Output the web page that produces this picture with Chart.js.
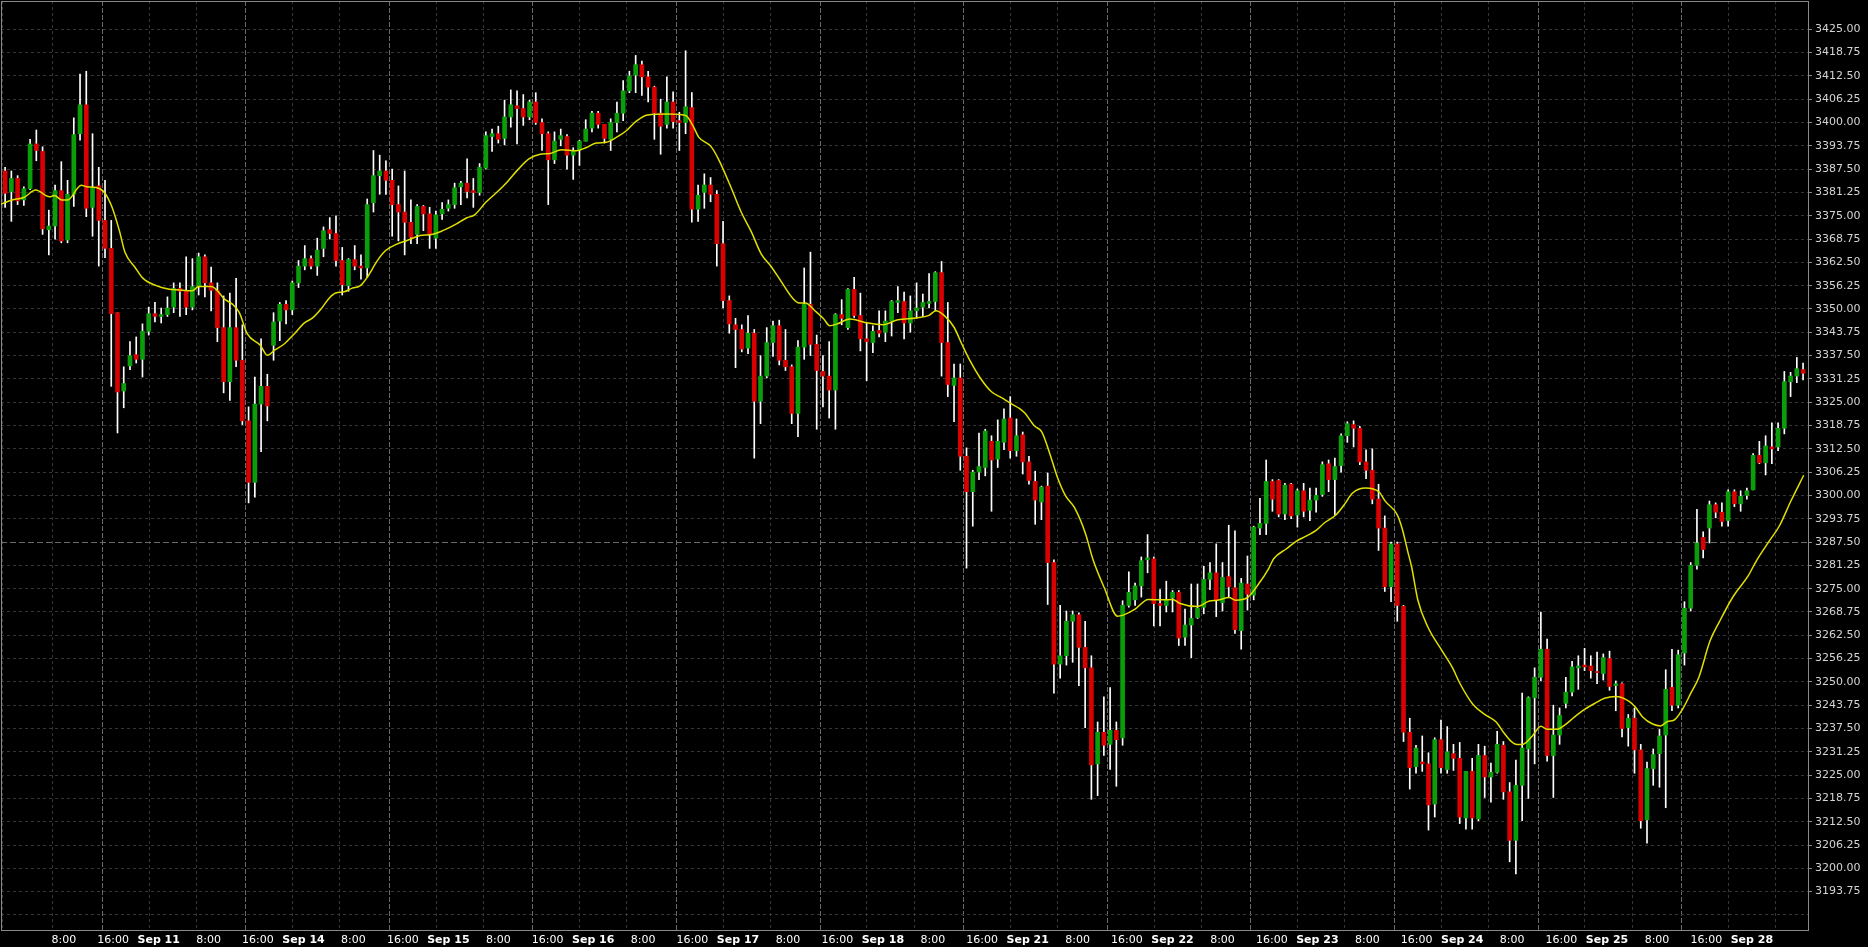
<!DOCTYPE html>
<html>
<head>
<meta charset="utf-8">
<title>ES hourly candles</title>
<script src="https://cdn.jsdelivr.net/npm/chart.js@4.4.1/dist/chart.umd.min.js"></script>
<style>
  html, body { margin: 0; padding: 0; background: #000; overflow: hidden; }
  #wrap { width: 1868px; height: 947px; }
  canvas { background: #000; }
</style>
</head>
<body>
<div id="wrap"><canvas id="priceChart" width="1868" height="947"></canvas></div>
<script>
// ============================================================
// Hourly candles, Sep 10 - Sep 28, with a moving average
// ============================================================

// one value per hourly bar, left to right
const opens = [
  3387, 3381.5, 3385, 3379.25, 3382.25, 3394.25, 3392.25, 3371.25, 3372.25, 3381.75,
  3368.5, 3380.75, 3397, 3404.75, 3377.25, 3383, 3373.75, 3366.25, 3349, 3328,
  3334.75, 3337.75, 3336.5, 3344, 3348.75, 3348, 3348.5, 3350.5, 3355.5, 3354.75,
  3350.5, 3356, 3364, 3357, 3355, 3345, 3330.5, 3345, 3336.25, 3320,
  3303.5, 3324.5, 3329.25, 3340.25, 3346.75, 3351.25, 3349.75, 3357, 3361.5, 3363.5,
  3361.5, 3366.25, 3371.25, 3370.25, 3363, 3356.25, 3363.25, 3361.5, 3361, 3378.5,
  3385.75, 3387, 3384.5, 3378, 3376, 3373.25, 3370, 3377.5, 3375.5, 3369,
  3375.5, 3377, 3378, 3382.75, 3383.75, 3381.75, 3381.25, 3387.75, 3396.25, 3397,
  3395.75, 3401.5, 3404.5, 3403.75, 3401.5, 3405.5, 3400, 3397, 3390, 3395.5,
  3396.25, 3391.25, 3392.75, 3395, 3398.5, 3402.5, 3399.5, 3395.5, 3400, 3402.5,
  3408.5, 3412.75, 3415.5, 3412.25, 3409.5, 3402.5, 3399.5, 3405.5, 3400.5, 3400,
  3404, 3376.75, 3381.25, 3383.25, 3380.75, 3367.5, 3352.25, 3345.75, 3344.5, 3339.5,
  3343.5, 3325.25, 3332, 3341, 3345.5, 3336.25, 3334.5, 3322, 3339.75, 3351.25,
  3340.5, 3333.25, 3332, 3328.25, 3348.5, 3345, 3355.25, 3348.25, 3342, 3341,
  3344.25, 3343.75, 3346.75, 3351.75, 3352, 3346.25, 3349.5, 3350.5, 3351.5, 3352,
  3359.75, 3341, 3329.5, 3331.5, 3310.5, 3301, 3306.25, 3307.5, 3314.5, 3309.75,
  3314.25, 3320.75, 3312, 3316.25, 3309, 3303.75, 3298.25, 3302.5, 3282, 3254.75,
  3257, 3266.25, 3268, 3259.25, 3253.75, 3228, 3236.5, 3233.25, 3237, 3235,
  3270.5, 3272, 3275.75, 3282.75, 3283, 3271, 3270.5, 3272.5, 3274, 3262,
  3265.25, 3267.25, 3270, 3277.5, 3279.25, 3271.25, 3278.25, 3275.25, 3263.75, 3276.25,
  3273.25, 3291.25, 3292.5, 3303.75, 3304, 3295, 3303, 3294.75, 3301.25, 3296,
  3298.75, 3300.25, 3308.5, 3304.25, 3308, 3316, 3319, 3318, 3309, 3306.75,
  3299, 3291.25, 3275.5, 3287, 3270.25, 3236.5, 3227.25, 3228.5, 3228, 3217.25,
  3234.5, 3226.5, 3230.75, 3229.5, 3213.5, 3226, 3213.25, 3230.25, 3224.5, 3225.75,
  3233, 3220.5, 3207.5, 3222.25, 3232, 3245.75, 3251.25, 3258.75, 3230.25, 3235.75,
  3244.25, 3247.25, 3253.75, 3254.5, 3254.25, 3252.75, 3252.25, 3256.25, 3249, 3249.5,
  3237.75, 3240.25, 3231.75, 3213, 3226.75, 3230.75, 3235.75, 3248.5, 3243.75, 3257.75,
  3269.75, 3281.25, 3288.75, 3291.25, 3297.5, 3295.5, 3293.25, 3301, 3297.75, 3300,
  3301.5, 3310.75, 3308.75, 3313, 3313, 3318, 3330.5, 3332, 3333.75
];

const highs = [
  3388, 3387, 3385.75, 3382.75, 3395.5, 3398, 3393.5, 3376.5, 3383.25, 3389.5,
  3384.5, 3401.25, 3413, 3413.75, 3397, 3388, 3384.5, 3373.75, 3349, 3334.5,
  3341.25, 3342.5, 3346, 3350.5, 3351.75, 3350.25, 3353.25, 3357, 3357, 3364,
  3363.5, 3365, 3364.5, 3361.25, 3357, 3353.5, 3354.25, 3358.25, 3345.75, 3323.75,
  3331.75, 3342, 3332.5, 3349, 3351.75, 3352.25, 3357.5, 3363, 3367, 3364.25,
  3369, 3372, 3374.5, 3375, 3366.5, 3363.5, 3367, 3364.5, 3379.5, 3392.5,
  3391.25, 3389.75, 3387.5, 3383, 3387, 3379.25, 3378, 3377.75, 3377.25, 3376.25,
  3378.5, 3379.25, 3383.75, 3384.25, 3390.25, 3385, 3389, 3397.5, 3398.25, 3399,
  3406, 3408.75, 3408.5, 3407.5, 3406, 3408, 3401, 3397.5, 3397.5, 3398.25,
  3396.75, 3393.25, 3395.25, 3400.75, 3403, 3403, 3399.5, 3401, 3405.5, 3411.25,
  3413.75, 3418, 3416.5, 3413.75, 3409.75, 3406.25, 3412.25, 3408.25, 3402.75, 3419.25,
  3408, 3383.25, 3386.25, 3385.25, 3381.75, 3373.5, 3353.5, 3347.5, 3345.75, 3348.25,
  3344.5, 3337.5, 3345, 3346.75, 3347, 3344.5, 3335, 3341.5, 3361, 3365.25,
  3343, 3337.5, 3341.25, 3348.75, 3352.5, 3355.5, 3358.5, 3354.25, 3346.25, 3345.5,
  3349.5, 3349.5, 3352.25, 3356, 3354.5, 3353.5, 3357, 3354, 3359.5, 3360,
  3362.75, 3351.75, 3335.25, 3335.25, 3312.75, 3306.75, 3316.75, 3317.75, 3316, 3320.25,
  3323.25, 3326.5, 3320.5, 3317, 3310.5, 3306.5, 3302.5, 3306, 3282.75, 3270.5,
  3269, 3269, 3268.5, 3266.25, 3257, 3239.25, 3246, 3248.5, 3239.25, 3271.75,
  3279.5, 3276.5, 3283.5, 3289.5, 3283.5, 3274.75, 3277, 3274.5, 3274.5, 3269.5,
  3276.25, 3276.25, 3281, 3282, 3287, 3282, 3292, 3290.5, 3277.75, 3283.75,
  3291.75, 3299.25, 3309.5, 3304.25, 3304.25, 3303.25, 3303.25, 3301.75, 3303.25, 3302,
  3302, 3309, 3309.5, 3310, 3316.5, 3319.75, 3320, 3318.5, 3312.25, 3312.5,
  3303, 3294.5, 3287.5, 3287.5, 3270.5, 3240.25, 3233, 3235.5, 3231, 3235,
  3239.75, 3238, 3233.25, 3233.75, 3226, 3229.5, 3233.25, 3232.75, 3228.25, 3236.75,
  3234, 3223, 3229, 3247, 3246, 3253.75, 3268.75, 3261.5, 3243.75, 3243,
  3251.25, 3255.5, 3257, 3259, 3257, 3258, 3257.5, 3258.25, 3250.25, 3249.75,
  3241.25, 3243, 3233.25, 3228.5, 3232, 3237.25, 3253.25, 3258.75, 3258.5, 3271.5,
  3282, 3296.25, 3290.25, 3298.5, 3298, 3298, 3301.5, 3301.5, 3301.25, 3302,
  3311.25, 3314.5, 3316, 3319.5, 3319.5, 3333.25, 3333, 3337, 3335.5
];

const lows = [
  3377.25, 3373.5, 3378, 3377.75, 3382, 3389.75, 3370, 3364.5, 3368.75, 3367.75,
  3367.75, 3377.5, 3395.25, 3374.75, 3369.5, 3361.5, 3363.75, 3329.25, 3316.75, 3323.5,
  3333.75, 3335.5, 3331.75, 3343, 3346.5, 3346.25, 3348, 3349, 3348, 3348.5,
  3349.75, 3353.75, 3353.25, 3349.5, 3341.25, 3327.5, 3325.5, 3334.5, 3319, 3298,
  3299.5, 3311.75, 3320, 3336.25, 3341.5, 3346, 3348.5, 3355.75, 3360.5, 3360.75,
  3359, 3364, 3368.75, 3361.5, 3353.75, 3354.75, 3360.5, 3358, 3358.5, 3376,
  3380.75, 3380.75, 3369.5, 3368.25, 3364.5, 3367.5, 3367.5, 3371, 3366.25, 3366.25,
  3374, 3376.25, 3377, 3378, 3379.75, 3377.25, 3380.5, 3387.5, 3392.25, 3394.5,
  3394, 3398.75, 3394.25, 3399.25, 3400.75, 3399.5, 3392.5, 3378, 3389, 3393.75,
  3387.5, 3384.75, 3388.5, 3395, 3397.5, 3398.5, 3394.5, 3392.5, 3397.5, 3400.5,
  3408, 3408, 3407.25, 3405.5, 3395.5, 3391.5, 3398.5, 3398.5, 3392.5, 3397,
  3373.25, 3373.5, 3377, 3378.75, 3361.5, 3350.25, 3343.5, 3334.25, 3338.5, 3338,
  3310, 3319.25, 3331.5, 3337.25, 3335, 3333.5, 3319.25, 3315.75, 3336.5, 3337.5,
  3317.75, 3323.75, 3320.75, 3317.75, 3345.75, 3344.5, 3347.75, 3338.75, 3330.75, 3338.25,
  3342.5, 3341.25, 3342.75, 3349, 3342, 3343.75, 3347.5, 3348, 3350.25, 3349.5,
  3332, 3326.5, 3319.75, 3306.75, 3280.5, 3291.75, 3304.25, 3305.25, 3295.75, 3307.5,
  3312.25, 3310, 3310.5, 3305.75, 3303, 3292.25, 3293.5, 3270.75, 3247, 3251,
  3254.5, 3255.25, 3249, 3237.75, 3218.5, 3219.5, 3230.25, 3226.5, 3222, 3233,
  3270, 3270.5, 3272.75, 3279.25, 3265, 3265, 3268.75, 3268.75, 3259.75, 3259.75,
  3256.5, 3267, 3268.25, 3274.75, 3267.5, 3269, 3272.75, 3263, 3258.75, 3269.25,
  3272, 3289.5, 3289.5, 3295.75, 3294.25, 3293.5, 3293.75, 3291.5, 3294.25, 3293.25,
  3295.5, 3299.75, 3301, 3294.75, 3306.25, 3314.25, 3313, 3308.25, 3304.5, 3297.75,
  3285.25, 3274.25, 3271.5, 3266.25, 3234, 3221.25, 3225.5, 3226, 3210.25, 3213.75,
  3225.5, 3225.5, 3226.25, 3212, 3210.5, 3210.5, 3212.75, 3219, 3217.75, 3225.5,
  3218.5, 3201.75, 3198.5, 3212.75, 3218.75, 3228, 3250.25, 3228.75, 3219, 3233.25,
  3243, 3246.25, 3248, 3253, 3251, 3249.5, 3250.5, 3247.75, 3242.25, 3235.25,
  3232.75, 3225.5, 3210.75, 3206.75, 3222.25, 3221.75, 3216.25, 3242.25, 3243, 3254.5,
  3269, 3280.25, 3283.25, 3287.25, 3294, 3291.75, 3291.75, 3297, 3295.75, 3299,
  3301.5, 3308.5, 3305.5, 3308.5, 3312, 3316.5, 3326.5, 3330.25, 3331
];

const closes = [
  3381, 3385, 3379, 3382.25, 3394.25, 3392.5, 3371.5, 3372.25, 3381.75, 3368.25,
  3380.75, 3396.75, 3404.75, 3377, 3382.5, 3373.75, 3366.25, 3348.75, 3327.75, 3330,
  3337.5, 3336.5, 3344, 3348.75, 3348, 3348.5, 3350.25, 3355.5, 3354.75, 3350.5,
  3356, 3364, 3357, 3355, 3345, 3330.5, 3345, 3336.25, 3320, 3303.5,
  3324.5, 3329.25, 3324, 3346.5, 3351.25, 3349.75, 3357, 3361.5, 3363.5, 3361.5,
  3365.75, 3371, 3370.25, 3363, 3356.5, 3363.25, 3361.5, 3361, 3378, 3385.75,
  3387, 3384.5, 3378, 3376, 3373.25, 3369.25, 3377.5, 3375.5, 3370, 3375.25,
  3376.75, 3378, 3382.5, 3383.75, 3381.5, 3381.25, 3388, 3396.5, 3397, 3395.5,
  3401.5, 3404.75, 3403.75, 3401.5, 3405.5, 3400, 3397, 3390, 3395, 3396.5,
  3391.25, 3392.25, 3395, 3398.25, 3402.5, 3399.5, 3395.75, 3400, 3402.5, 3408.5,
  3412.5, 3415.5, 3412.25, 3409.5, 3402.5, 3399, 3405.5, 3400.25, 3400, 3404.25,
  3376.75, 3380.5, 3383.25, 3380.75, 3367.5, 3352.25, 3346, 3344.5, 3339.25, 3343.5,
  3325.25, 3332, 3341, 3345.5, 3336.25, 3334.5, 3322, 3339.75, 3351.25, 3340.5,
  3333.5, 3332, 3328.25, 3348.5, 3347.5, 3355.25, 3348.25, 3342, 3341.25, 3344,
  3343.5, 3346.75, 3352, 3352.25, 3346.25, 3349.5, 3350.25, 3351.75, 3352, 3359.75,
  3341, 3329.75, 3331.5, 3310.5, 3301, 3306.25, 3307.75, 3317.25, 3309.5, 3314.5,
  3320.5, 3312, 3316, 3309, 3304, 3298.75, 3302.25, 3282, 3254.75, 3257,
  3266.25, 3268, 3259.25, 3253.75, 3227.75, 3236.5, 3233, 3237, 3234.5, 3270.5,
  3274, 3275.75, 3282.5, 3283.25, 3271, 3270.5, 3272, 3274, 3261.75, 3265.25,
  3267, 3269.75, 3277.5, 3279.25, 3272, 3278, 3275.5, 3264, 3276.5, 3273.5,
  3291.5, 3292.5, 3303.75, 3299, 3295, 3302.75, 3294.5, 3301.25, 3295.75, 3298.75,
  3300, 3308.25, 3304.25, 3307.75, 3316, 3319.25, 3318, 3309, 3306.75, 3299,
  3291.25, 3275.5, 3287, 3270.5, 3236.5, 3227, 3232.25, 3228, 3217, 3234.5,
  3227, 3231.25, 3229.5, 3213.75, 3226, 3213.5, 3230.25, 3224.5, 3225.75, 3233.25,
  3220.5, 3207.5, 3222.25, 3232.25, 3245.75, 3251.25, 3258.75, 3230.25, 3235.75, 3241,
  3247.25, 3254, 3254.25, 3254, 3253, 3252.5, 3256.5, 3248.75, 3249.5, 3237.5,
  3240.25, 3231.75, 3212.75, 3226.75, 3230.5, 3235.5, 3248, 3243.75, 3257.25, 3269.75,
  3281.25, 3287.25, 3285.5, 3297.5, 3295.5, 3293, 3301, 3297.75, 3299.75, 3301.25,
  3310.75, 3308.75, 3313.25, 3312.5, 3318, 3330.5, 3332, 3334, 3332.75
];

// moving average at these bar positions
const maIndex = [
  -0.66, 1.1, 3.0, 4.9, 7.1, 7.9, 9.1, 10.0, 12.2, 13.0,
  14.6, 15.9, 17.1, 18.3, 19.2, 20.8, 22.1, 24.2, 26.1, 27.9,
  30.0, 31.0, 33.05, 34.0, 35.1, 36.4, 37.5, 38.8, 40.9, 42.0,
  43.2, 44.7, 46.3, 47.9, 49.25, 50.6, 51.9, 52.95, 54.3, 55.6,
  56.9, 58.0, 59.6, 60.9, 62.75, 64.3, 66.8, 68.0, 70.1, 72.3,
  73.9, 75.2, 77.0, 78.9, 80.5, 82.1, 83.9, 85.7, 87.3, 89.1,
  91.5, 93.1, 94.7, 96.3, 97.9, 99.5, 101.05, 102.9, 106.1, 109.0,
  110.1, 111.1, 113.05, 114.2, 116.1, 117.9, 119.5, 121.1, 122.7, 124.3,
  126.1, 127.2, 128.2, 129.8, 131.1, 132.1, 133.3, 135.3, 138.2, 140.6,
  143.0, 145.9, 148.0, 149.1, 150.4, 152.0, 153.3, 154.6, 156.2, 158.0,
  159.6, 161.2, 162.5, 163.3, 164.9, 166.05, 167.3, 168.6, 169.9, 171.3,
  173.1, 174.2, 176.05, 178.2, 179.1, 181.0, 183.1, 185.2, 187.05, 188.1,
  191.0, 192.9, 194.2, 196.05, 197.1, 199.0, 200.8, 202.4, 203.2, 205.25,
  206.8, 208.4, 210.0, 211.3, 213.2, 214.5, 215.8, 217.95, 219.0, 220.1,
  221.1, 223.0, 223.8, 224.7, 225.3, 226.3, 227.9, 230.1, 231.9, 233.0,
  235.1, 237.0, 238.8, 240.1, 241.2, 242.2, 243.2, 244.6, 246.0, 247.0,
  248.6, 249.8, 251.4, 253.0, 254.6, 256.2, 258.0, 260.2, 261.2, 262.3,
  263.9, 265.2, 266.3, 267.3, 268.7, 270.0, 271.3, 273.1, 274.65, 276.8,
  279.2, 280.5, 282.6, 284.2, 286.05, 288.1
];

const maValue = [
  3378.1, 3379.2, 3379.9, 3381.9, 3380.1, 3380.4, 3379.2, 3379.2, 3383.2, 3382.8,
  3382.6, 3381.25, 3377.4, 3371.0, 3365.2, 3361.2, 3358.2, 3356.25, 3355.35, 3355.1,
  3354.9, 3356.0, 3356.0, 3354.9, 3352.7, 3351.3, 3349.1, 3343.3, 3340.2, 3337.6,
  3339.0, 3340.6, 3343.3, 3346.2, 3347.6, 3350.0, 3352.9, 3354.3, 3354.6, 3355.6,
  3356.25, 3358.5, 3362.9, 3365.6, 3367.4, 3368.3, 3369.8, 3369.9, 3371.0, 3372.8,
  3374.4, 3375.25, 3378.6, 3381.5, 3384.2, 3387.3, 3390.25, 3391.5, 3391.7, 3392.7,
  3392.4, 3393.3, 3394.5, 3394.7, 3396.0, 3397.8, 3400.3, 3402.05, 3402.3, 3401.9,
  3399.4, 3396.1, 3393.6, 3390.4, 3383.3, 3376.0, 3370.8, 3364.8, 3361.4, 3357.4,
  3353.0, 3351.6, 3351.6, 3349.4, 3347.4, 3345.5, 3346.0, 3347.3, 3346.25, 3345.8,
  3347.1, 3347.6, 3348.3, 3349.55, 3348.3, 3345.1, 3340.4, 3336.0, 3331.5, 3327.8,
  3326.2, 3324.55, 3323.3, 3322.15, 3318.6, 3317.05, 3311.4, 3304.7, 3299.8, 3296.7,
  3289.55, 3283.1, 3275.3, 3267.6, 3267.9, 3269.5, 3272.1, 3272.0, 3272.1, 3271.1,
  3270.2, 3271.7, 3271.9, 3272.6, 3271.9, 3272.6, 3276.3, 3280.4, 3283.0, 3285.7,
  3287.7, 3289.1, 3290.6, 3292.6, 3294.8, 3297.5, 3300.6, 3302.0, 3301.8, 3300.9,
  3298.4, 3294.8, 3291.0, 3284.8, 3280.8, 3271.9, 3264.7, 3258.5, 3253.6, 3249.7,
  3244.0, 3241.3, 3239.3, 3236.3, 3234.1, 3233.2, 3233.3, 3235.4, 3238.1, 3237.3,
  3237.3, 3238.4, 3240.6, 3242.6, 3244.2, 3245.6, 3246.1, 3244.7, 3243.1, 3240.6,
  3238.7, 3238.2, 3239.4, 3239.7, 3242.7, 3246.9, 3251.2, 3261.0, 3266.3, 3272.9,
  3278.4, 3282.4, 3287.8, 3291.8, 3298.5, 3305.4
];

// axis texts
const dayNames = ['Sep 11', 'Sep 14', 'Sep 15', 'Sep 16', 'Sep 17', 'Sep 18',
                  'Sep 21', 'Sep 22', 'Sep 23', 'Sep 24', 'Sep 25', 'Sep 28'];
const hourNames = ['8:00', '16:00'];
const priceTicks = [];
for (let p = 3187.5; p <= 3425; p += 6.25) priceTicks.push(p);

// Dark terminal palette
const COLORS = {
  up: '#0b9e0b',
  down: '#d90000',
  wick: '#ffffff',
  ma: '#e0e000',
  grid: '#363636',
  gridStrong: '#6a6a6a',
  frame: '#8a8a8a',
  priceText: '#d4d4d4',
  timeText: '#ffffff'
};

const FONT = "'DejaVu Sans', Verdana, sans-serif";
const X_MIN = -0.66, X_MAX = 288.79;
const Y_MAX = 3432.59, Y_MIN = 3183.46;

// gridline positions: 8:00, 16:00 and the day break (strong)
const gridTicks = [];
for (let d = 0; d < 13; d++) {
  [3.6, 11.6, 19.5].forEach(function(o, j) {
    const v = o + 23 * d;
    if (v < X_MAX) gridTicks.push({ value: v, strong: j === 2 });
  });
}

// label positions sit a little right of their gridline
const labelTicks = [];
const labelTexts = [];
for (let d = 0; d < dayNames.length; d++) {
  labelTicks.push({ value: 9.4 + 23.2 * d });   labelTexts.push(hourNames[0]);
  labelTicks.push({ value: 17.3 + 23.2 * d });  labelTexts.push(hourNames[1]);
  labelTicks.push({ value: 24.6 + 23.2 * d });  labelTexts.push(dayNames[d]);
}

// no extra room around the plot for edge labels
function noPadding(s) {
  s.paddingTop = 0;
  s.paddingBottom = 0;
  s.paddingLeft = 0;
  s.paddingRight = 0;
}

var chartInstances = {};

function renderPriceChart() {
  var ctx = document.getElementById('priceChart').getContext('2d');

  var wickData = opens.map(function(_, i) { return { x: i, y: [lows[i], highs[i]] }; });
  var bodyData = opens.map(function(o, i) { return { x: i, y: [o, closes[i]] }; });
  var bodyColors = opens.map(function(o, i) { return closes[i] >= o ? COLORS.up : COLORS.down; });
  var maData = maIndex.map(function(x, k) { return { x: x, y: maValue[k] }; });

  chartInstances['priceChart'] = new Chart(ctx, {
    type: 'bar',
    data: {
      datasets: [
        {
          type: 'line',
          label: 'MA',
          data: maData,
          borderColor: COLORS.ma,
          borderWidth: 1.5,
          pointRadius: 0,
          cubicInterpolationMode: 'monotone',
          order: 0
        },
        {
          label: 'Body',
          data: bodyData,
          backgroundColor: bodyColors,
          barThickness: 4,
          minBarLength: 1,
          grouped: false,
          order: 1
        },
        {
          label: 'Wick',
          data: wickData,
          backgroundColor: COLORS.wick,
          barThickness: 1,
          grouped: false,
          order: 2
        }
      ]
    },
    options: {
      responsive: false,
      animation: false,
      devicePixelRatio: 1,
      layout: { padding: { left: 1, top: 1, right: 0, bottom: 0 } },
      plugins: {
        legend: { display: false },
        tooltip: { enabled: false }
      },
      scales: {
        x: {
          type: 'linear',
          position: 'bottom',
          min: X_MIN, max: X_MAX,
          offset: false,
          weight: 0,
          afterBuildTicks: function(s) { s.ticks = gridTicks.map(function(t) { return { value: t.value }; }); },
          afterFit: function(s) { s.height = 0; noPadding(s); },
          ticks: { display: false },
          grid: {
            drawTicks: false,
            lineWidth: 1,
            color: function(c) { return c.index !== undefined && gridTicks[c.index] && gridTicks[c.index].strong ? COLORS.gridStrong : COLORS.grid; }
          },
          border: {
            display: true,
            color: COLORS.frame,
            dash: function(c) { return c.index !== undefined && gridTicks[c.index] && gridTicks[c.index].strong ? [5, 2] : [3, 3]; }
          }
        },
        xLabels: {
          type: 'linear',
          position: 'bottom',
          min: X_MIN, max: X_MAX,
          offset: false,
          weight: 1,
          afterBuildTicks: function(s) { s.ticks = labelTicks.map(function(t) { return { value: t.value }; }); },
          afterFit: function(s) { s.height = 17; noPadding(s); },
          grid: { display: false, drawTicks: false },
          border: { display: false },
          ticks: {
            autoSkip: false,
            maxRotation: 0,
            padding: 4,
            color: COLORS.timeText,
            font: function(c) { return { family: FONT, size: 11, weight: c.index % 3 === 2 ? 'bold' : 'normal' }; },
            callback: function(v, i) { return labelTexts[i]; }
          }
        },
        xTop: {
          type: 'linear',
          position: 'top',
          min: X_MIN, max: X_MAX,
          afterFit: function(s) { s.height = 0; noPadding(s); },
          ticks: { display: false },
          grid: { display: false, drawTicks: false },
          border: { display: true, color: COLORS.frame }
        },
        y: {
          type: 'linear',
          position: 'right',
          min: Y_MIN, max: Y_MAX,
          afterBuildTicks: function(s) { s.ticks = priceTicks.map(function(p) { return { value: p }; }); },
          afterFit: function(s) { s.width = 60; noPadding(s); },
          grid: {
            drawTicks: true,
            tickLength: 4,
            tickColor: function(c) { return c.tick && c.tick.value < 3190 ? 'rgba(0,0,0,0)' : COLORS.frame; },
            color: function(c) { return c.tick && c.tick.value === 3287.5 ? COLORS.gridStrong : COLORS.grid; }
          },
          border: {
            display: true,
            color: COLORS.frame,
            dash: function(c) { return c.tick && c.tick.value === 3287.5 ? [6, 3] : [3, 3]; }
          },
          ticks: {
            padding: 3,
            color: COLORS.priceText,
            font: { family: FONT, size: 11 },
            callback: function(v) { return v < 3190 ? '' : v.toFixed(2); }
          }
        },
        yLeft: {
          type: 'linear',
          position: 'left',
          min: Y_MIN, max: Y_MAX,
          afterFit: function(s) { s.width = 0; noPadding(s); },
          ticks: { display: false },
          grid: { display: false, drawTicks: false },
          border: { display: true, color: COLORS.frame }
        }
      }
    }
  });
}

renderPriceChart();
</script>
</body>
</html>
